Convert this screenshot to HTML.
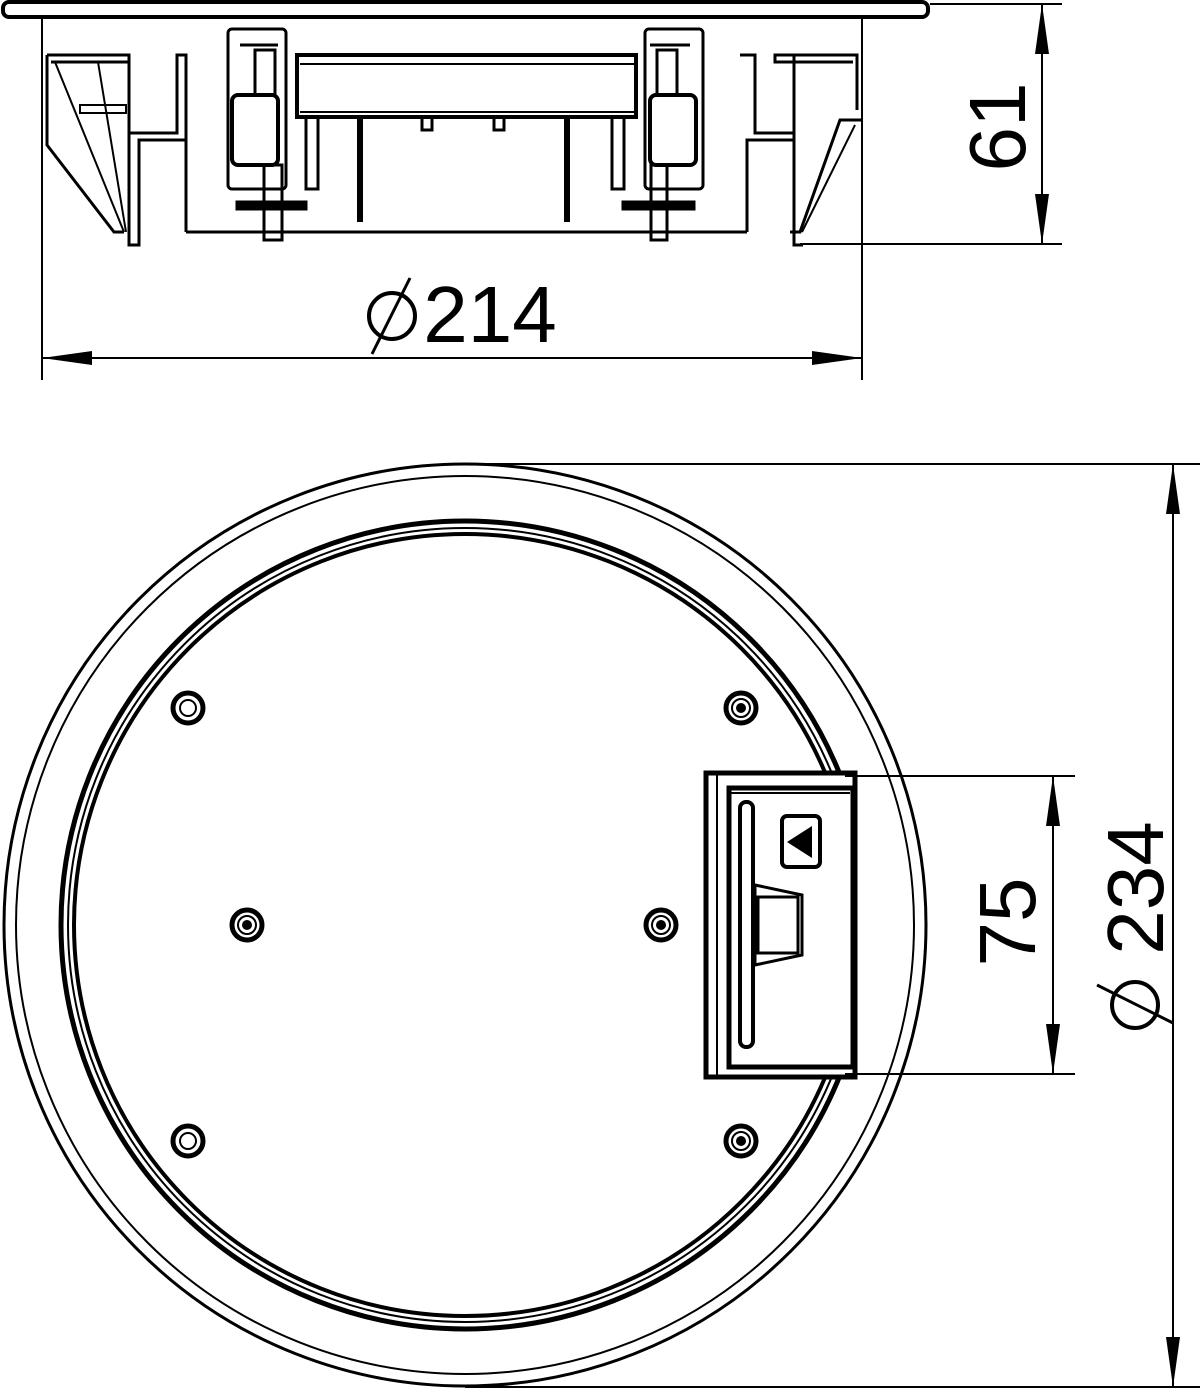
<!DOCTYPE html>
<html><head><meta charset="utf-8"><style>
html,body{margin:0;padding:0;background:#fff}
svg{display:block}
text{font-family:"Liberation Sans",sans-serif;fill:#000}
</style></head><body>
<svg width="1201" height="1390" viewBox="0 0 1201 1390" xmlns="http://www.w3.org/2000/svg" fill="none" stroke="#000" stroke-width="2">
<!-- TOP VIEW -->
<rect x="3" y="2" width="925" height="15" rx="6" stroke-width="4"/>
<line x1="42" y1="17" x2="42" y2="380"/>
<line x1="862" y1="17" x2="862" y2="380"/>
<polyline points="47,55 129,55 129,62 51,62" stroke-width="3"/>
<polyline points="47,55 47,145 114,232 124,232" stroke-width="3"/>
<line x1="55" y1="62" x2="124" y2="232" stroke-width="2"/>
<line x1="98" y1="62" x2="126" y2="232" stroke-width="2"/>
<rect x="80" y="105" width="46" height="8" stroke-width="2"/>
<polyline points="129,55 129,245 139,245 139,140 186,140" stroke-width="3"/>
<polyline points="129,133 177,133 177,55 186,55 186,232" stroke-width="3"/>
<polyline points="857,110 857,55 775,55 775,62 853,62" stroke-width="3"/>
<polyline points="862,120 840,120 800,232 790,232" stroke-width="3"/>
<line x1="855" y1="125" x2="802" y2="232"/>
<polyline points="794,55 794,245 803,245" stroke-width="3"/>
<polyline points="794,140 747,140 747,232" stroke-width="3"/>
<polyline points="794,133 755,133 755,55 740,55" stroke-width="3"/>
<line x1="186" y1="232" x2="747" y2="232" stroke-width="3"/>
<rect x="297" y="55" width="339" height="62" stroke-width="4"/>
<line x1="300" y1="64" x2="634" y2="64"/>
<line x1="300" y1="112" x2="634" y2="112"/>
<rect x="306" y="117" width="12" height="72" stroke-width="3"/>
<rect x="612" y="117" width="12" height="72" stroke-width="3"/>
<line x1="360" y1="117" x2="360" y2="222" stroke-width="6"/>
<line x1="567" y1="117" x2="567" y2="222" stroke-width="6"/>
<rect x="422" y="117" width="10" height="13" stroke-width="3"/>
<rect x="494" y="117" width="10" height="13" stroke-width="3"/>
<g stroke-width="3">
<rect x="228" y="29" width="58" height="160" rx="4"/>
<rect x="232" y="95" width="46" height="70" rx="6" stroke-width="4"/>
<line x1="240" y1="45" x2="278" y2="45"/>
<rect x="255" y="50" width="20" height="45"/>
<rect x="264" y="165" width="18" height="75"/>
<rect x="237" y="202" width="69" height="7" fill="#000"/>
<rect x="645" y="29" width="58" height="160" rx="4"/>
<rect x="650" y="95" width="46" height="70" rx="6" stroke-width="4"/>
<line x1="650" y1="45" x2="690" y2="45"/>
<rect x="657" y="50" width="20" height="45"/>
<rect x="651" y="165" width="16" height="75"/>
<rect x="623" y="202" width="71" height="7" fill="#000"/>
</g>
<line x1="930" y1="4" x2="1062" y2="4"/>
<line x1="800" y1="244" x2="1062" y2="244"/>
<line x1="1042" y1="4" x2="1042" y2="244"/>
<polygon points="1042,4 1035,54 1049,54" fill="#000" stroke="none"/>
<polygon points="1042,244 1035,194 1049,194" fill="#000" stroke="none"/>
<text x="0" y="0" font-size="80" stroke="none" text-anchor="middle" transform="translate(1025,127) rotate(-90)">61</text>
<line x1="42" y1="358" x2="862" y2="358"/>
<polygon points="42,358 92,351 92,365" fill="#000" stroke="none"/>
<polygon points="862,358 812,351 812,365" fill="#000" stroke="none"/>
<text x="490" y="342" font-size="80" stroke="none" text-anchor="middle">214</text>
<circle cx="392" cy="316" r="23" stroke-width="4"/>
<line x1="372" y1="354" x2="410" y2="278" stroke-width="3"/>

<!-- BOTTOM VIEW -->
<circle cx="465" cy="925" r="461" stroke-width="3"/>
<circle cx="465" cy="925" r="449" stroke-width="2"/>
<circle cx="465" cy="925" r="404" stroke-width="5"/>
<circle cx="465" cy="925" r="397" stroke-width="2"/>
<circle cx="465" cy="925" r="391" stroke-width="4"/>
<rect x="852" y="780" width="22" height="290" fill="#fff" stroke="none"/>
<rect x="706" y="773" width="149" height="304" fill="#fff" stroke-width="5"/>
<line x1="717" y1="775" x2="717" y2="1075" stroke-width="2"/>
<rect x="729" y="788" width="124" height="279" stroke-width="5"/>
<line x1="730" y1="793" x2="850" y2="793"/>
<rect x="740" y="802" width="13" height="245" rx="6" stroke-width="4"/>
<rect x="782" y="816" width="38" height="51" rx="5" stroke-width="4"/>
<polygon points="787,842 812,826 812,858" fill="#000" stroke="none"/>
<polygon points="755,885 802,895 802,955 755,965" stroke-width="3"/>
<rect x="758" y="897" width="40" height="56" stroke-width="3"/>
<g stroke-width="5">
<circle cx="188" cy="708" r="15"/><circle cx="188" cy="708" r="8" stroke-width="2"/>
<circle cx="188" cy="1141" r="15"/><circle cx="188" cy="1141" r="8" stroke-width="2"/>
<circle cx="741" cy="708" r="15"/><circle cx="741" cy="708" r="9" stroke-width="2"/>
<circle cx="247" cy="925" r="15"/><circle cx="247" cy="925" r="9" stroke-width="2"/>
<circle cx="661" cy="925" r="15"/><circle cx="661" cy="925" r="9" stroke-width="2"/>
<circle cx="741" cy="1141" r="15"/><circle cx="741" cy="1141" r="9" stroke-width="2"/>
</g>
<g fill="#000" stroke="none">
<circle cx="741" cy="708" r="5"/><circle cx="247" cy="925" r="5"/><circle cx="661" cy="925" r="5"/><circle cx="741" cy="1141" r="5"/>
</g>
<line x1="845" y1="776" x2="1075" y2="776"/>
<line x1="845" y1="1074" x2="1075" y2="1074"/>
<line x1="1053" y1="776" x2="1053" y2="1074"/>
<polygon points="1053,776 1046,826 1060,826" fill="#000" stroke="none"/>
<polygon points="1053,1074 1046,1024 1060,1024" fill="#000" stroke="none"/>
<text x="0" y="0" font-size="80" stroke="none" text-anchor="middle" transform="translate(1035,922) rotate(-90)">75</text>
<line x1="465" y1="464" x2="1200" y2="464"/>
<line x1="465" y1="1387" x2="1200" y2="1387"/>
<line x1="1173" y1="464" x2="1173" y2="1387"/>
<polygon points="1173,464 1166,514 1180,514" fill="#000" stroke="none"/>
<polygon points="1173,1387 1166,1337 1180,1337" fill="#000" stroke="none"/>
<text x="0" y="0" font-size="80" stroke="none" text-anchor="middle" transform="translate(1163,888) rotate(-90)">234</text>
<circle cx="1135" cy="1005" r="23" stroke-width="4"/>
<line x1="1097" y1="985" x2="1173" y2="1023" stroke-width="3"/>
</svg>
</body></html>
